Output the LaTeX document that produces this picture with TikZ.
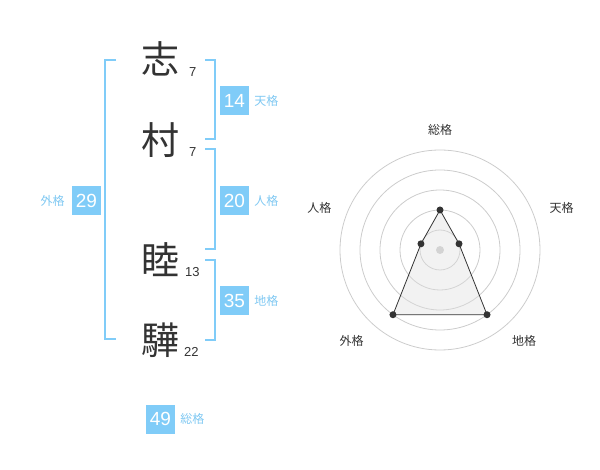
\documentclass[tikz,border=0pt]{standalone}
\usepackage{fontspec}
\setmainfont{Liberation Sans}
\newfontfamily\jp{Noto Sans CJK JP}
\usetikzlibrary{positioning,calc}
\definecolor{kakublue}{HTML}{80CCF8}
\definecolor{kakutext}{HTML}{7FC8F2}
\definecolor{inkgray}{HTML}{333333}
\definecolor{ringgray}{HTML}{CCCCCC}

\begin{document}
\begin{tikzpicture}[x=1pt,y=-1pt]
    \tikzstyle{kanji}=[font=\jp\fontsize{38}{38}\selectfont,text=inkgray,inner sep=0pt]
    \tikzstyle{strokes}=[font=\fontsize{13}{13}\selectfont,text=inkgray,inner sep=0pt,anchor=base west]
    \tikzstyle{numbox}=[fill=kakublue,text=white,font=\fontsize{19}{19}\selectfont,minimum size=29pt,inner sep=0pt]
    \tikzstyle{kaku}=[text=kakutext,font=\jp\fontsize{12}{12}\selectfont,inner sep=0pt]
    \tikzstyle{brace}=[kakublue,line width=2pt]
    \tikzstyle{ring}=[ringgray,line width=0.8pt]
    \tikzstyle{axis}=[text=inkgray,font=\jp\fontsize{12}{12}\selectfont,inner sep=0pt]
    \useasboundingbox (0,0) rectangle (600,470);
    % name and strokes
    \begin{scope}
      \node[kanji](shi) at (160,59) {志};
      \node[kanji](mura) at (160,140) {村};
      \node[kanji](mutsu) at (160,260) {睦};
      \node[kanji](ka) at (160,340) {驊};
      \node[strokes](nshi) at (189,77) {7};
      \node[strokes](nmura) at (189,157) {7};
      \node[strokes](nmutsu) at (185,277) {13};
      \node[strokes](nka) at (184,357) {22};
    \end{scope}
    % brackets
    \draw[brace] (116,60) -- (105,60) -- (105,339.5) -- (116,339.5);
    \draw[brace] (205,60) -- (214.5,60) -- (214.5,139.5) -- (205,139.5);
    \draw[brace] (205,149.5) -- (214.5,149.5) -- (214.5,249.5) -- (205,249.5);
    \draw[brace] (205,260) -- (214.5,260) -- (214.5,340) -- (205,340);
    % scores
    \begin{scope}
      \node[numbox](ten) at (234.5,100.5) {14};
      \node[kaku,right=5pt of ten](lten) {天格};
      \node[numbox](jin) at (234.5,200.5) {20};
      \node[kaku,right=5pt of jin](ljin) {人格};
      \node[numbox](chi) at (234.5,301) {35};
      \node[kaku,right=5pt of chi](lchi) {地格};
      \node[numbox](gai) at (86.5,200.5) {29};
      \node[kaku,left=7pt of gai](lgai) {外格};
      \node[numbox](sou) at (160.5,419) {49};
      \node[kaku,right=5pt of sou](lsou) {総格};
    \end{scope}
    % radar
    \begin{scope}
      \coordinate (c) at (440,250);
      \foreach \r in {20,40,...,100}
        \draw[ring] (c) circle[radius=\r pt];
      \fill[ringgray] (c) circle[radius=4pt];
      \coordinate (p1) at ($(c)+(90:40pt)$);
      \coordinate (p2) at ($(c)+(18:20pt)$);
      \coordinate (p3) at ($(c)+(-54:80pt)$);
      \coordinate (p4) at ($(c)+(234:80pt)$);
      \coordinate (p5) at ($(c)+(162:20pt)$);
      \draw[inkgray,line width=0.8pt,fill=gray!25,fill opacity=0.4] (p1) -- (p2) -- (p3) -- (p4) -- (p5) -- cycle;
      \foreach \i in {1,...,5}
        \fill[inkgray] (p\i) circle[radius=3.5pt];
      \node[axis](asou) at (440,130) {総格};
      \node[axis](aten) at (561.7,208) {天格};
      \node[axis](achi) at (524,341) {地格};
      \node[axis](agai) at (351.7,341) {外格};
      \node[axis](ajin) at (319.3,208) {人格};
    \end{scope}
\end{tikzpicture}
\end{document}
